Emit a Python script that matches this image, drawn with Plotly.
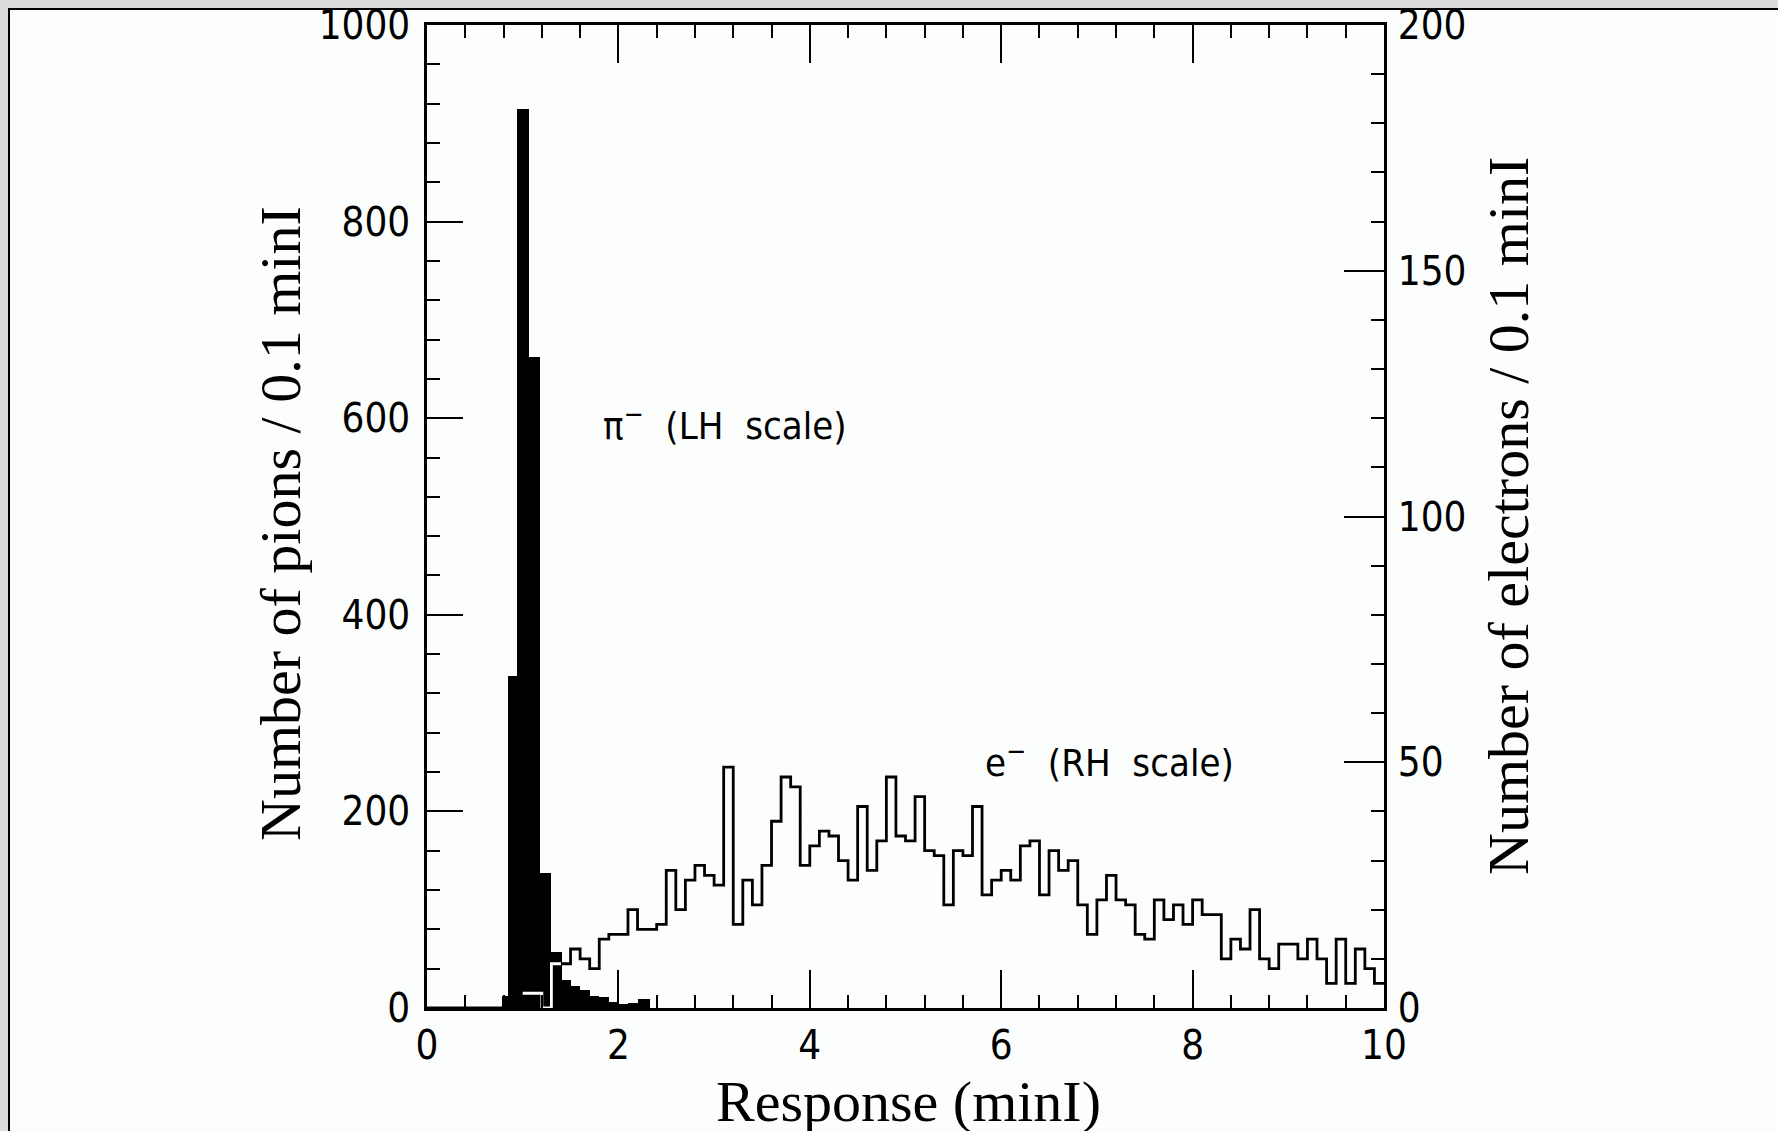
import plotly.graph_objects as go

# ---------------- data ----------------
# pion histogram (left-hand scale): bin edges as drawn in the figure and counts per bin
pion_edges = [0.78, 0.85, 0.94, 1.07, 1.18, 1.30, 1.41, 1.5, 1.6, 1.7,
              1.8, 1.9, 2.0, 2.1, 2.2, 2.33]
pion_counts = [12, 338, 915, 662, 137, 57, 28, 22, 18, 12, 11, 6, 4, 5, 9]

# electron histogram (right-hand scale): 0.1 minI bins from 0 to 10
e_bin_left = [round(i * 0.1, 1) for i in range(100)]
electrons = [0, 0, 0, 0, 0, 0, 0, 0, 0, 0,
             3, 3, 0, 9, 9, 12, 10, 8, 14, 15,
             15, 20, 16, 16, 17, 28, 20, 26, 29, 27,
             25, 49, 17, 26, 21, 29, 38, 47, 45, 29,
             33, 36, 35, 30, 26, 41, 28, 34, 47, 35,
             34, 43, 32, 31, 21, 32, 31, 41, 23, 26,
             28, 26, 33, 34, 23, 32, 28, 30, 21, 15,
             22, 27, 22, 21, 15, 14, 22, 18, 21, 17,
             22, 19, 19, 10, 14, 12, 20, 10, 8, 13,
             13, 10, 14, 10, 5, 14, 5, 12, 8, 5]

x_ticks = [0, 2, 4, 6, 8, 10]
y_left_ticks = [0, 200, 400, 600, 800, 1000]
y_right_ticks = [0, 50, 100, 150, 200]

# ---------------- figure ----------------
W, H = 1778, 1131
TICKFONT = dict(family="Liberation Sans Narrow, DejaVu Sans Condensed, Arial Narrow, sans-serif",
                size=40, color="black")
TITLEFONT = dict(family="Liberation Serif, Times New Roman, serif", size=58, color="black")

pion_mid = [(a + b) / 2 for a, b in zip(pion_edges[:-1], pion_edges[1:])]
pion_w = [b - a for a, b in zip(pion_edges[:-1], pion_edges[1:])]

fig = go.Figure()

fig.add_trace(go.Bar(
    x=pion_mid, y=pion_counts, width=pion_w,
    marker=dict(color="black", line=dict(width=0)),
    yaxis="y", hoverinfo="skip"))

# electron histogram outline
ex = e_bin_left + [10.0]
ey = electrons + [electrons[-1]]
fig.add_trace(go.Scatter(
    x=ex, y=ey, mode="lines", yaxis="y2",
    line=dict(shape="hv", color="black", width=2.8), hoverinfo="skip"))

# part of the electron outline lying inside the black pion bars appears white
wx = e_bin_left[10:14] + [e_bin_left[14]]
wy = electrons[10:14] + [electrons[13]]
fig.add_trace(go.Scatter(
    x=wx, y=wy, mode="lines", yaxis="y2",
    line=dict(shape="hv", color="white", width=2.8), hoverinfo="skip"))

x0p, x1p = 427 / W, 1384 / W
y0p, y1p = 1 - 1008 / H, 1 - 25 / H

common_axis = dict(showgrid=False, zeroline=False, showline=True, linecolor="black",
                   linewidth=2.5, ticks="inside", tickcolor="black", tickwidth=2,
                   tickfont=TICKFONT, automargin=False)

fig.update_layout(
    width=W, height=H,
    margin=dict(l=0, r=0, t=0, b=0),
    paper_bgcolor="#dcdcdc",
    plot_bgcolor="rgba(0,0,0,0)",
    showlegend=False,
    bargap=0,
    xaxis=dict(domain=[x0p, x1p], range=[0, 10], tickvals=x_ticks, ticklen=38,
               mirror="ticks",
               minor=dict(dtick=0.4, tick0=0, ticks="inside", ticklen=13,
                          tickwidth=2, tickcolor="black", showgrid=False),
               **common_axis),
    yaxis=dict(domain=[y0p, y1p], range=[0, 1000], tickvals=y_left_ticks, ticklen=36,
               anchor="x", ticklabelstandoff=6,
               minor=dict(dtick=40, tick0=0, ticks="inside", ticklen=13,
                          tickwidth=2, tickcolor="black", showgrid=False),
               **common_axis),
    yaxis2=dict(overlaying="y", side="right", anchor="x", range=[0, 200],
                tickvals=y_right_ticks, ticklen=40, ticklabelstandoff=3,
                minor=dict(dtick=10, tick0=0, ticks="inside", ticklen=13,
                           tickwidth=2, tickcolor="black", showgrid=False),
                **common_axis),
    shapes=[dict(type="rect", xref="paper", yref="paper",
                 x0=9 / W, x1=1.05, y0=-0.05, y1=1 - 9 / H,
                 fillcolor="#fcfefe", line=dict(color="black", width=2),
                 layer="below")],
    annotations=[
        dict(text="Number of pions / 0.1 minI", xref="paper", yref="paper",
             x=281 / W, y=1 - 524 / H, xanchor="center", yanchor="middle",
             textangle=-90, showarrow=False, font=TITLEFONT),
        dict(text="Number of electrons / 0.1 minI", xref="paper", yref="paper",
             x=1508 / W, y=1 - 516 / H, xanchor="center", yanchor="middle",
             textangle=-90, showarrow=False, font=TITLEFONT),
        dict(text="Response (minI)", xref="paper", yref="paper",
             x=908 / W, y=1 - 1101 / H, xanchor="center", yanchor="middle",
             showarrow=False, font=TITLEFONT),
        dict(text="π<sup>−</sup>\u00a0\u00a0(LH\u00a0\u00a0scale)", xref="paper", yref="paper",
             x=601 / W, y=1 - 423 / H, xanchor="left", yanchor="middle",
             showarrow=False, font=dict(TICKFONT, size=38)),
        dict(text="e<sup>−</sup>\u00a0\u00a0(RH\u00a0\u00a0scale)", xref="paper", yref="paper",
             x=983 / W, y=1 - 760 / H, xanchor="left", yanchor="middle",
             showarrow=False, font=dict(TICKFONT, size=38)),
    ],
)

fig.write_html("out.html", config={"displayModeBar": False},
               post_script="document.body.style.margin='0';document.body.style.overflow='hidden';")
